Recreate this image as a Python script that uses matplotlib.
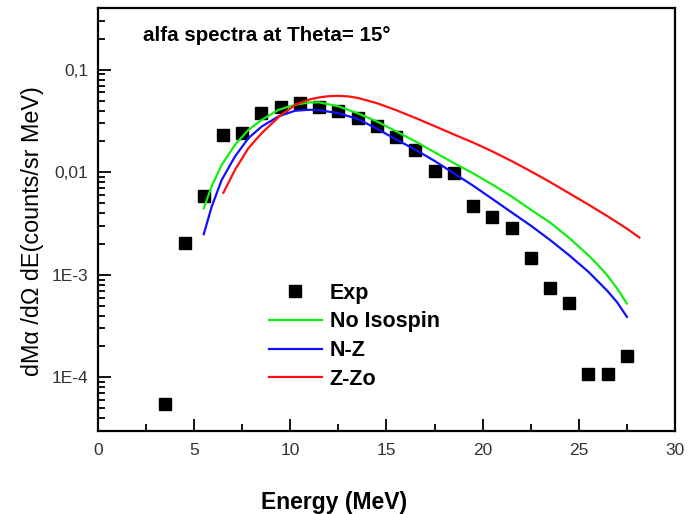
import numpy as np
import matplotlib
matplotlib.use('Agg')
import matplotlib.pyplot as plt
from matplotlib.ticker import FixedLocator, MultipleLocator, FuncFormatter, NullFormatter

plt.rcParams['font.family'] = ['Liberation Sans', 'DejaVu Sans']

# dados experimentais
exp_energy = [3.5, 4.5, 5.5, 6.5, 7.5, 8.5, 9.5, 10.5, 11.5, 12.5, 13.5, 14.5, 15.5,
              16.5, 17.5, 18.5, 19.5, 20.5, 21.5, 22.5, 23.5, 24.5, 25.5, 26.5, 27.5]
exp_yield = [5.45e-5, 2.05e-3, 5.9e-3, 0.023, 0.0241, 0.0377, 0.0435, 0.047, 0.0435,
             0.0394, 0.0337, 0.028, 0.022, 0.0164, 0.0102, 0.0099, 4.65e-3, 3.63e-3,
             2.84e-3, 1.47e-3, 7.5e-4, 5.3e-4, 1.07e-4, 1.07e-4, 1.6e-4]

# curvas teoricas
noiso_energy = [5.5, 5.9, 6.43, 7.12, 7.82, 8.51, 9.38, 10.24, 11.0, 11.5, 12.5, 13.5,
                14.5, 15.5, 16.5, 17.5, 18.5, 19.5, 20.5, 21.5, 22.5, 23.5, 24.5, 25.5,
                26.0, 26.5, 27.0, 27.5]
noiso_yield = [0.00445, 0.00723, 0.01178, 0.0185, 0.0259, 0.0324, 0.0406, 0.0455, 0.048,
               0.048, 0.0439, 0.0376, 0.0313, 0.0251, 0.0200, 0.01567, 0.0123, 0.00977,
               0.00759, 0.00582, 0.00432, 0.00324, 0.00229, 0.00155, 0.001245, 0.000977,
               0.000733, 0.000525]

nz_energy = [5.5, 5.91, 6.43, 7.12, 7.82, 8.51, 9.38, 10.24, 11.0, 11.5, 12.5, 13.5, 14.5,
             15.5, 16.5, 17.5, 18.5, 19.5, 20.5, 21.5, 22.5, 23.5, 24.5, 25.5, 26.5,
             27.0, 27.5]
nz_yield = [0.00249, 0.00461, 0.00841, 0.01422, 0.0215, 0.0279, 0.035, 0.0398, 0.0407,
            0.0403, 0.0377, 0.0331, 0.0266, 0.0209, 0.0166, 0.0129, 0.00977, 0.00741,
            0.0055, 0.00407, 0.00302, 0.00219, 0.00155, 0.00107, 0.000692, 0.000537,
            0.000389]

zzo_energy = [6.52, 7.12, 7.82, 8.51, 9.46, 10.3, 11.0, 11.5, 12.0, 12.5, 13.0, 13.5, 14.5,
              15.5, 16.5, 17.5, 18.5, 19.5, 20.5, 21.5, 22.5, 23.5, 24.5, 25.5, 26.5,
              27.5, 28.15]
zzo_yield = [0.00631, 0.01054, 0.01718, 0.02404, 0.03548, 0.0459, 0.0513, 0.0537, 0.0552,
             0.0556, 0.055, 0.0531, 0.0472, 0.0403, 0.0339, 0.0282, 0.0234, 0.0195, 0.0160,
             0.01288, 0.01023, 0.00804, 0.00624, 0.00484, 0.00372, 0.00282, 0.00231]

y_ticks = [1e-4, 1e-3, 1e-2, 1e-1]
y_tick_labels = ['1E-4', '1E-3', '0,01', '0,1']

fig = plt.figure(figsize=(6.93, 5.14), dpi=100)
ax = fig.add_axes([0.1414, 0.1615, 0.8326, 0.823])

ax.plot(exp_energy, exp_yield, 's', color='black', ms=8.5, label='Exp')
ax.plot(noiso_energy, noiso_yield, color='#11ee11', lw=1.6, label='No Isospin')
ax.plot(nz_energy, nz_yield, color='#1010ff', lw=1.6, label='N-Z')
ax.plot(zzo_energy, zzo_yield, color='#ff1010', lw=1.6, label='Z-Zo')

ax.set_yscale('log')
ax.set_xlim(0, 30)
ax.set_ylim(3e-5, 0.4)

ax.xaxis.set_major_locator(MultipleLocator(5))
ax.xaxis.set_minor_locator(MultipleLocator(2.5))
ax.yaxis.set_major_locator(FixedLocator(y_ticks))
ax.yaxis.set_major_formatter(FuncFormatter(lambda v, p: y_tick_labels[y_ticks.index(v)] if v in y_ticks else ''))
ax.yaxis.set_minor_formatter(NullFormatter())

ax.tick_params(which='both', direction='in', top=False, right=False,
               labelsize=12.5, labelcolor='#333333', width=1.3)
ax.tick_params(which='major', length=9)
ax.tick_params(which='minor', length=5)
ax.tick_params(axis='x', pad=9)
ax.tick_params(axis='y', pad=7)

for s in ax.spines.values():
    s.set_linewidth(1.6)

ax.text(0.078, 0.936, 'alfa spectra at Theta= 15°', transform=ax.transAxes,
        fontsize=14.8, fontweight='bold', va='center', ha='left')

ax.set_xlabel('Energy (MeV)', fontsize=16.5, fontweight='bold')
ax.xaxis.set_label_coords(0.41, -0.142)
ax.set_ylabel('dMα /dΩ dE(counts/sr MeV)', fontsize=16.8)
ax.yaxis.set_label_coords(-0.094, 0.472)

leg = ax.legend(loc='upper left', bbox_to_anchor=(0.2964, 0.3506), frameon=False,
                prop={'weight': 'bold', 'size': 15.5}, handlelength=2.46,
                handletextpad=0.35, labelspacing=0.36, borderpad=0, borderaxespad=0)

fig.savefig('out.png', dpi=100)
